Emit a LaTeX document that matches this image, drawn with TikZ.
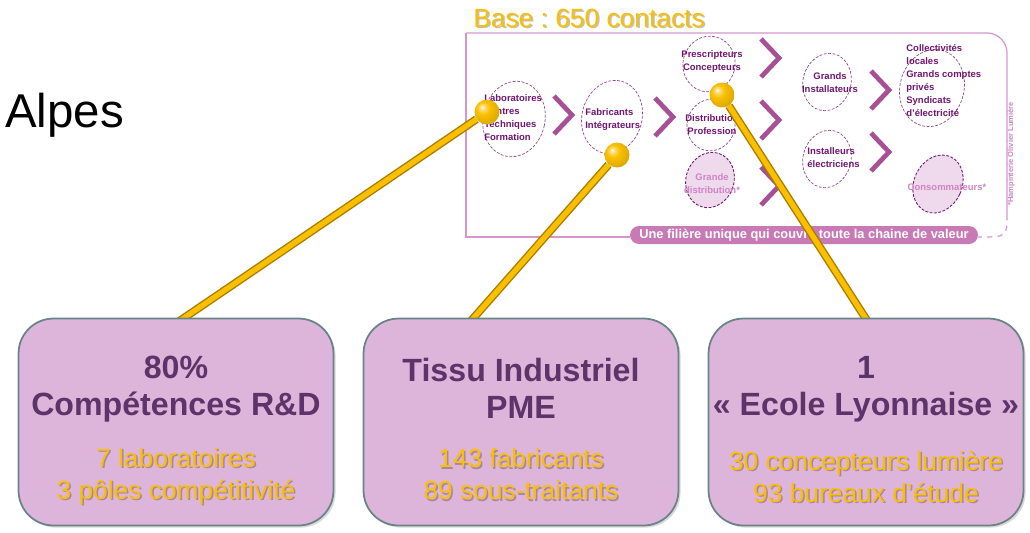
\documentclass[tikz,border=0pt]{standalone}
\usepackage{fontspec}
\setmainfont{Liberation Sans}
\usetikzlibrary{shadows}
\frenchspacing

\definecolor{gold}{RGB}{250,192,0}
\definecolor{golddark}{RGB}{170,125,0}
\definecolor{boxfill}{RGB}{222,181,218}
\definecolor{boxedge}{RGB}{105,132,134}
\definecolor{titlepurple}{RGB}{93,52,106}
\definecolor{insetpurple}{RGB}{112,22,112}
\definecolor{insetpink}{RGB}{214,150,204}
\definecolor{ringpurple}{RGB}{150,70,140}
\definecolor{chevpink}{RGB}{168,80,150}
\definecolor{barpink}{RGB}{200,122,182}
\definecolor{softpink}{RGB}{238,218,236}
\definecolor{greypink}{RGB}{210,130,198}

\pgfdeclareradialshading{goldball}{\pgfpoint{-10bp}{10bp}}{%
  color(0bp)=(white); color(5bp)=(white!45!gold); color(13bp)=(gold);
  color(30bp)=(gold!88!black); color(45bp)=(gold!62!black); color(60bp)=(gold!55!black)}

\begin{document}
\begin{tikzpicture}[x=0.02cm,y=-0.02cm,
    panel/.style={rounded corners=0.7cm, fill=boxfill, draw=boxedge, line width=1pt,
      minimum width=6.3cm, minimum height=4.14cm,
      drop shadow={shadow xshift=1.2pt, shadow yshift=-1.2pt, opacity=0.3}},
    headline/.style={align=center, text=titlepurple, font=\fontsize{18.3}{21}\selectfont\bfseries},
    figures/.style={align=center, text=gold, font=\fontsize{15}{18.2}\selectfont},
    figshadow/.style={figures, text=black, text opacity=0.25},
    frame/.style={draw=insetpink, line width=0.7pt},
    ring/.style={draw=ringpurple, line width=0.4pt, dash pattern=on 1.6pt off 0.9pt},
    darkring/.style={ring, draw=insetpurple, fill=softpink, line width=0.5pt},
    small/.style={text=insetpurple, font=\fontsize{5.4}{7.4}\selectfont\bfseries, inner sep=0},
    chev/.style={draw=chevpink, line width=2.7pt},
    stick/.style={draw=golddark, line width=0.8pt, double=gold, double distance=3pt},
    knob/.style={circle, inner sep=0, minimum size=0.5cm, shading=goldball}]

  \useasboundingbox (0,0) rectangle (1030,532);

  % title
  \node[anchor=base west, inner sep=0, font=\fontsize{27}{32}\selectfont] (region) at (5,127) {Alpes};
  \node[text=black, text opacity=0.25, font=\fontsize{15}{18}\selectfont] (base-sh) at (590.5,19.5) {Base : 650 contacts};
  \node[text=gold, font=\fontsize{15}{18}\selectfont] (base) at (589,18) {Base : 650 contacts};

  % the value chain inset
  \draw[frame] (630,237) -- (466,237) -- (466,33);
  \draw[frame, rounded corners=0.4cm] (466,33) -- (1007,33) -- (1007,215);
  \draw[frame, dashed] (1007,215) .. controls (1007,237) .. (978,237);
  \node[fill=barpink, rounded corners=0.18cm, minimum width=6.96cm, minimum height=0.36cm,
    inner sep=0, text=white, font=\fontsize{7.3}{8}\selectfont\bfseries] (chain) at (804,235)
    {Une filière unique qui couvre toute la chaine de valeur};
  \node[rotate=90, text=greypink, font=\fontsize{4.3}{5}\selectfont\bfseries, inner sep=0] (credit) at (1011,154)
    {*Hampinterie Olivier Lumière};

  \draw[ring] (514,119) ellipse [x radius=31, y radius=38, rotate=-12];
  \draw[ring] (612,117) ellipse [x radius=30, y radius=37, rotate=-15];
  \draw[ring] (709,64) ellipse [x radius=26, y radius=28, rotate=-15];
  \draw[ring] (711,125) ellipse [x radius=24, y radius=26, rotate=-15];
  \draw[darkring] (710,180) ellipse [x radius=24, y radius=28, rotate=-18];
  \draw[ring] (827,82) ellipse [x radius=24, y radius=29, rotate=-15];
  \draw[ring] (827,159) ellipse [x radius=24, y radius=29, rotate=-15];
  \draw[ring] (932,88) ellipse [x radius=32, y radius=39, rotate=-15];
  \draw[darkring] (938,184) ellipse [x radius=24, y radius=30, rotate=-25];

  \node[small, anchor=west, align=left] (labo) at (484,118) {Laboratoires\\Centres\\Techniques\\Formation};
  \node[small, anchor=west, align=left] (fab) at (585,120) {Fabricants\\Intégrateurs};
  \node[small, align=center] (presc) at (712,62) {Prescripteurs\\Concepteurs};
  \node[small, align=center] (distrib) at (712,125) {Distribution\\Profession};
  \node[small, align=center, text=greypink] (grande) at (712,184) {Grande\\distribution*};
  \node[small, align=center] (grands) at (830,83) {Grands\\Installateurs};
  \node[small, anchor=west, align=left] (install) at (807,158) {Installeurs\\électriciens};
  \node[small, anchor=west, align=left] (collect) at (906,81)
    {Collectivités\\locales\\Grands comptes\\privés\\Syndicats\\d'électricité};
  \node[small, text=greypink] (conso) at (947,187) {Consommateurs*};

  \draw[chev] (554,96) -- (572,115) -- (554,134);
  \draw[chev] (655,98) -- (673,117) -- (655,136);
  \draw[chev] (761,39) -- (779,58) -- (761,77);
  \draw[chev] (761,101) -- (779,120) -- (761,139);
  \draw[chev] (761,167) -- (779,186) -- (761,205);
  \draw[chev] (871,71) -- (889,90) -- (871,109);
  \draw[chev] (871,133) -- (889,152) -- (871,171);

  % pointers
  \node[knob] (k1) at (487,112) {};
  \node[knob] (k2) at (617,155) {};
  \node[knob] (k3) at (722,95) {};
  \coordinate (t1) at (178,322);
  \coordinate (t2) at (470,322);
  \coordinate (t3) at (868,322);
  \draw[stick] (t1) -- (k1);
  \draw[stick] (t2) -- (k2);
  \draw[stick] (t3) -- (k3);

  % key figures
  \node[panel] (rd) at (176,422) {};
  \node[panel] (pme) at (521,422) {};
  \node[panel] (ecole) at (866,422) {};

  \node[headline] (rd-title) at (176,389) {80\%\\Compétences R\&D};
  \node[headline] (pme-title) at (521,388) {Tissu Industriel\\PME};
  \node[headline] (ecole-title) at (866,389) {1\\« Ecole Lyonnaise »};

  \node[figshadow] (rd-sh) at (177.5,478) {7 laboratoires\\3 pôles compétitivité};
  \node[figures] (rd-figs) at (176,476.5) {7 laboratoires\\3 pôles compétitivité};
  \node[figshadow] (pme-sh) at (522.5,476) {143 fabricants\\89 sous-traitants};
  \node[figures] (pme-figs) at (521,474.5) {143 fabricants\\89 sous-traitants};
  \node[figshadow] (ecole-sh) at (867.5,478) {30 concepteurs lumière\\93 bureaux d'étude};
  \node[figures] (ecole-figs) at (866,476.5) {30 concepteurs lumière\\93 bureaux d'étude};
\end{tikzpicture}
\end{document}
